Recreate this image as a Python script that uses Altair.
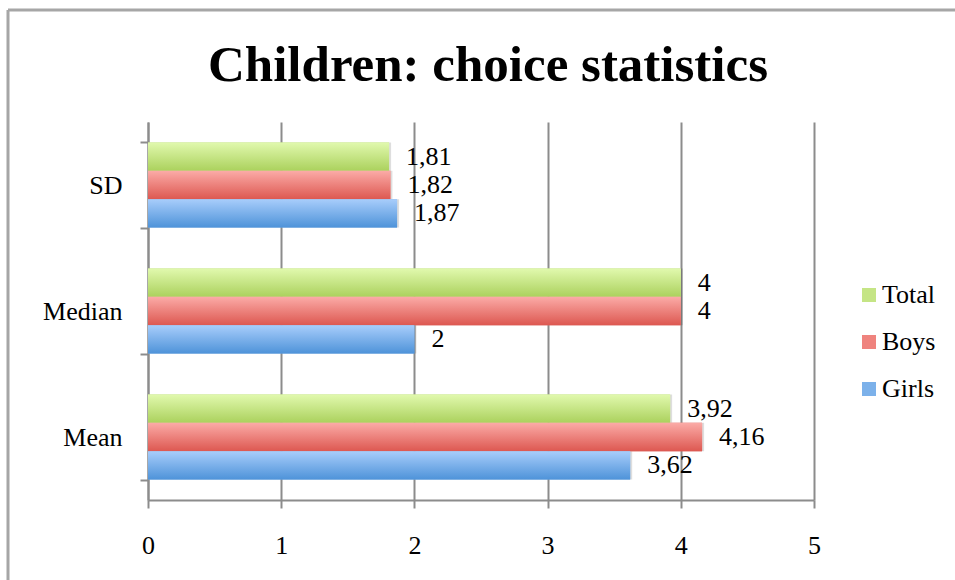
import altair as alt
import pandas as pd

# Summary statistics of children's choices, by group
stats = ["SD", "Median", "Mean"]
groups = ["Total", "Boys", "Girls"]
total = [1.81, 4, 3.92]
boys = [1.82, 4, 4.16]
girls = [1.87, 2, 3.62]
x_ticks = [0, 1, 2, 3, 4, 5]

# Gradient colours per group (top, bottom) and a flat colour for the legend
grad = {
    "Total": ("#e1f9ae", "#abd15d"),
    "Boys": ("#fbaba7", "#dd5851"),
    "Girls": ("#a8cdfb", "#4e93d9"),
}
flat = ["#c5e585", "#ef837e", "#7cb1ea"]

rows = []
for name, vals in zip(groups, [total, boys, girls]):
    for stat, v in zip(stats, vals):
        rows.append({"stat": stat, "group": name, "value": v,
                     "label": f"{v:g}".replace(".", ",")})
df = pd.DataFrame(rows)

FONT = "Liberation Serif"
AX = "#8c8c8c"

x_enc = alt.X(
    "value:Q",
    scale=alt.Scale(domain=[0, 5], nice=False, zero=True),
    axis=alt.Axis(values=x_ticks, title=None, grid=True, gridColor=AX, gridWidth=2,
                  gridOpacity=1, domainColor=AX, domainWidth=2, tickColor=AX,
                  tickWidth=2, tickSize=8, labelFont=FONT, labelFontSize=26,
                  labelColor="black", labelBaseline="alphabetic", labelPadding=45,
                  labelFlush=False, format="d"),
)
y_enc = alt.Y(
    "stat:N",
    sort=stats,
    scale=alt.Scale(domain=stats, paddingInner=0.325, paddingOuter=0.1625),
    axis=alt.Axis(title=None, grid=False, tickBand="extent", domainColor=AX,
                  domainWidth=2, tickColor=AX, tickWidth=2, tickSize=8,
                  labelFont=FONT, labelFontSize=26, labelColor="black",
                  labelPadding=18),
)
yo_enc = alt.YOffset("group:N", sort=groups,
                     scale=alt.Scale(domain=groups, paddingInner=0, paddingOuter=0))

base = alt.Chart(df)

shadow = base.mark_bar(color="#000000", opacity=0.13, xOffset=2, yOffset=3).encode(
    x=x_enc, y=y_enc, yOffset=yo_enc)

legend_bars = base.mark_bar().encode(
    x=x_enc, y=y_enc, yOffset=yo_enc,
    color=alt.Color("group:N", scale=alt.Scale(domain=groups, range=flat),
                    legend=alt.Legend(title=None, orient="none", legendX=708,
                                      legendY=160, symbolType="square",
                                      symbolSize=196, symbolStrokeWidth=0,
                                      labelFont=FONT, labelFontSize=26,
                                      labelColor="black", rowPadding=21,
                                      labelOffset=0)),
)

grad_layers = []
for name in groups:
    top, bottom = grad[name]
    grad_layers.append(
        base.mark_bar(fill=alt.Gradient(
            gradient="linear", x1=0, y1=0, x2=0, y2=1,
            stops=[alt.GradientStop(offset=0, color=top),
                   alt.GradientStop(offset=1, color=bottom)]))
        .encode(x=x_enc, y=y_enc, yOffset=yo_enc)
        .transform_filter(alt.datum.group == name)
    )

labels = base.mark_text(align="left", baseline="middle", dx=17, font=FONT,
                        fontSize=26, color="black").encode(
    x=x_enc, y=y_enc, yOffset=yo_enc, text="label:N")

# Outer frame of the chart (top and left edges)
frame_top = alt.Chart().mark_rule(color="#a6a6a6", strokeWidth=3).encode(
    x=alt.value(-140), x2=alt.value(820), y=alt.value(-112))
frame_left = alt.Chart().mark_rule(color="#a6a6a6", strokeWidth=3).encode(
    x=alt.value(-140), y=alt.value(-112), y2=alt.value(470))

chart = alt.layer(
    frame_top, frame_left, shadow, legend_bars, *grad_layers, labels
).properties(
    width=666,
    height=378,
    title=alt.TitleParams("Children: choice statistics", font=FONT, fontSize=51,
                          fontWeight="bold", color="black", anchor="middle",
                          frame="group", baseline="alphabetic", offset=-123, dx=7),
    autosize=alt.AutoSizeParams(type="none"),
    padding={"left": 148, "top": 122, "right": 141, "bottom": 80},
).configure_view(stroke=None)

chart.save("out.html", embed_options={"renderer": "svg", "actions": False})
